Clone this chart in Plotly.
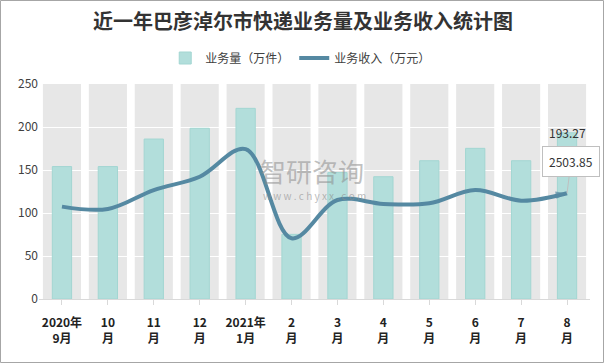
import plotly.graph_objects as go

categories = ["2020年<br>9月", "10<br>月", "11<br>月", "12<br>月", "2021年<br>1月", "2<br>月",
              "3<br>月", "4<br>月", "5<br>月", "6<br>月", "7<br>月", "8<br>月"]
volume = [154, 154, 186, 198.5, 221.7, 75.2, 147, 142.2, 160.8, 175.2, 160.8, 193.27]
revenue = [2187, 2132, 2580, 2895, 3550, 1437, 2343, 2250, 2266, 2580, 2327, 2503.85]
y_ticks = [0, 50, 100, 150, 200, 250]

FONT = "Noto Sans CJK SC"
W, H = 606, 364
ML, MR, MT, MB = 39, 16, 84, 65
PW, PH = W - ML - MR, H - MT - MB

fig = go.Figure()

fig.add_trace(go.Bar(
    x=list(range(len(categories))), y=volume, name="业务量（万件）", width=0.42,
    marker=dict(color="#b2dedb", line=dict(color="#a3d6d2", width=1)),
    hoverinfo="skip",
))

n = len(revenue)
symbols = ["diamond"] + ["circle"] * (n - 2) + ["arrow"]
sizes = [11] + [0] * (n - 2) + [12]
fig.add_trace(go.Scatter(
    x=list(range(n)), y=revenue, name="业务收入（万元）", yaxis="y2",
    mode="lines+markers",
    line=dict(color="#5589a2", width=4, shape="spline", smoothing=1.0),
    marker=dict(symbol=symbols, size=sizes, color="#5589a2", angleref="previous",
                line=dict(width=0)),
    hoverinfo="skip",
))

shapes = []
# grey background columns (below gridlines)
for i in range(len(categories)):
    shapes.append(dict(type="rect", xref="x", yref="y", x0=i - 0.415, x1=i + 0.415,
                       y0=0, y1=max(y_ticks), fillcolor="#e7e7e7", line=dict(width=0),
                       layer="below"))
# outer border
shapes.append(dict(type="rect", xref="paper", yref="paper",
                   x0=-(ML - 0.5) / PW, x1=1 + (MR - 2.5) / PW,
                   y0=-(MB - 1.5) / PH, y1=1 + (MT - 0.5) / PH,
                   line=dict(color="#a6a6a6", width=1), fillcolor="rgba(0,0,0,0)"))

annotations = [
    dict(x=n - 1, y=volume[-1], xref="x", yref="y", text=f"{volume[-1]:.2f}",
         showarrow=False, yanchor="middle", font=dict(family=FONT, size=12, color="#333")),
    dict(x=n - 1, y=revenue[-1], xref="x", yref="y2", text=f"{revenue[-1]:.2f}",
         showarrow=True, arrowhead=0, arrowwidth=1, arrowcolor="#bfbfbf",
         ax=4, ay=-32, bgcolor="white", bordercolor="#bfbfbf", borderwidth=1, borderpad=6,
         font=dict(family=FONT, size=12, color="#333")),
    # watermark
    dict(x=0.495, y=0.60, xref="paper", yref="paper", text="智研咨询", showarrow=False,
         font=dict(family=FONT, size=26, color="rgba(140,140,140,0.55)"), xanchor="center"),
    dict(x=0.50, y=0.48, xref="paper", yref="paper", text="w w w . c h y x x . c o m",
         showarrow=False, font=dict(family=FONT, size=10, color="rgba(140,140,140,0.6)")),
]

fig.update_layout(
    width=W, height=H,
    margin=dict(l=ML, r=MR, t=MT, b=MB),
    paper_bgcolor="white", plot_bgcolor="white",
    title=dict(text="<b>近一年巴彦淖尔市快递业务量及业务收入统计图</b>", x=0.5, xanchor="center",
               y=1 - 22 / H, yanchor="middle",
               font=dict(family=FONT, size=20, color="#333333")),
    legend=dict(orientation="h", x=0.475, xanchor="center", y=1 + (MT - 58) / PH, yanchor="middle",
                font=dict(family=FONT, size=12, color="#404040"), itemwidth=30,
                bgcolor="rgba(0,0,0,0)"),
    barmode="overlay",
    xaxis=dict(tickmode="array", tickvals=list(range(len(categories))), ticktext=categories,
               range=[-0.5, len(categories) - 0.5], showgrid=False, automargin=False,
               showline=True, linecolor="#d9d9d9", ticks="outside", tickson="boundaries",
               ticklen=5, tickcolor="#d9d9d9", ticklabelstandoff=8,
               tickfont=dict(family=FONT, size=12, color="#222", weight="bold")),
    yaxis=dict(range=[0, max(y_ticks)], tickvals=y_ticks, showgrid=True, gridcolor="white",
               gridwidth=1, zeroline=False, showline=False, automargin=False,
               tickfont=dict(family=FONT, size=12, color="#404040")),
    yaxis2=dict(overlaying="y", range=[0, 5090], visible=False),
    shapes=shapes, annotations=annotations,
)

fig.write_html("out.html", config={"displayModeBar": False},
               post_script="document.body.style.margin='0';")
